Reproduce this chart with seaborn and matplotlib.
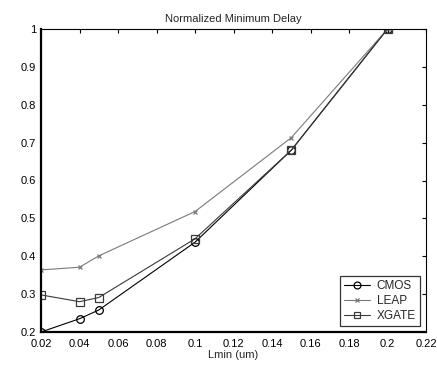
import matplotlib
matplotlib.use("Agg")
import matplotlib.pyplot as plt
import seaborn as sns
import pandas as pd

# Channel length (um) and normalized minimum delay for each logic style
lmin = [0.02, 0.04, 0.05, 0.1, 0.15, 0.2]
cmos = [0.200, 0.235, 0.258, 0.437, 0.680, 1.000]
leap = [0.364, 0.371, 0.401, 0.518, 0.713, 1.000]
xgate = [0.298, 0.280, 0.291, 0.446, 0.680, 1.000]

series = ["CMOS", "LEAP", "XGATE"]
x_ticks = [0.02, 0.04, 0.06, 0.08, 0.1, 0.12, 0.14, 0.16, 0.18, 0.2, 0.22]
y_ticks = [0.2, 0.3, 0.4, 0.5, 0.6, 0.7, 0.8, 0.9, 1.0]

df = pd.DataFrame({
    "Lmin": lmin * 3,
    "delay": cmos + leap + xgate,
    "style": [s for s, v in zip(series, [cmos, leap, xgate]) for _ in v],
})

sns.set_style("white")
plt.rcParams["font.family"] = ["Liberation Sans", "DejaVu Sans"]
plt.rcParams["font.size"] = 8

fig = plt.figure(figsize=(4.37, 3.65), dpi=100)
ax = fig.add_axes([41 / 437, 1 - 332 / 365, (426 - 41) / 437, (332 - 29) / 365])

palette = {"CMOS": "#000000", "LEAP": "#7a7a7a", "XGATE": "#3a3a3a"}
markers = {"CMOS": "o", "LEAP": "x", "XGATE": "s"}
sizes = {"CMOS": 5.5, "LEAP": 3.5, "XGATE": 5.5}

for name in series:
    sub = df[df["style"] == name]
    sns.lineplot(data=sub, x="Lmin", y="delay", ax=ax, color=palette[name],
                 marker=markers[name], markersize=sizes[name],
                 markerfacecolor="none", markeredgecolor=palette[name],
                 markeredgewidth=0.9, linewidth=0.8, label=name)

ax.set_xlim(0.02, 0.22)
ax.set_ylim(0.2, 1.0)
ax.set_xticks(x_ticks)
ax.set_xticklabels([f"{t:g}" for t in x_ticks])
ax.set_yticks(y_ticks)
ax.set_yticklabels([f"{t:g}" for t in y_ticks])
ax.tick_params(axis="x", pad=5)
ax.tick_params(direction="in", length=3, width=0.8, top=True, right=True,
               labelsize=8, colors="black")

for side in ["top", "right"]:
    ax.spines[side].set_visible(True)
    ax.spines[side].set_linewidth(0.8)
    ax.spines[side].set_color("black")
for side in ["left", "bottom"]:
    ax.spines[side].set_linewidth(1.6)
    ax.spines[side].set_color("black")

ax.set_title("Normalized Minimum Delay", fontsize=8, pad=5)
ax.set_xlabel("Lmin (um)", fontsize=8, labelpad=1)
ax.set_ylabel("")

leg = ax.legend(loc="lower right", frameon=True, fancybox=False, fontsize=8.5,
                handlelength=2.2, borderaxespad=0.5, labelspacing=0.25,
                borderpad=0.35, handletextpad=0.6, markerscale=0.9)
leg.get_frame().set_edgecolor("black")
leg.get_frame().set_linewidth(0.9)

fig.savefig("out.png", dpi=100)
